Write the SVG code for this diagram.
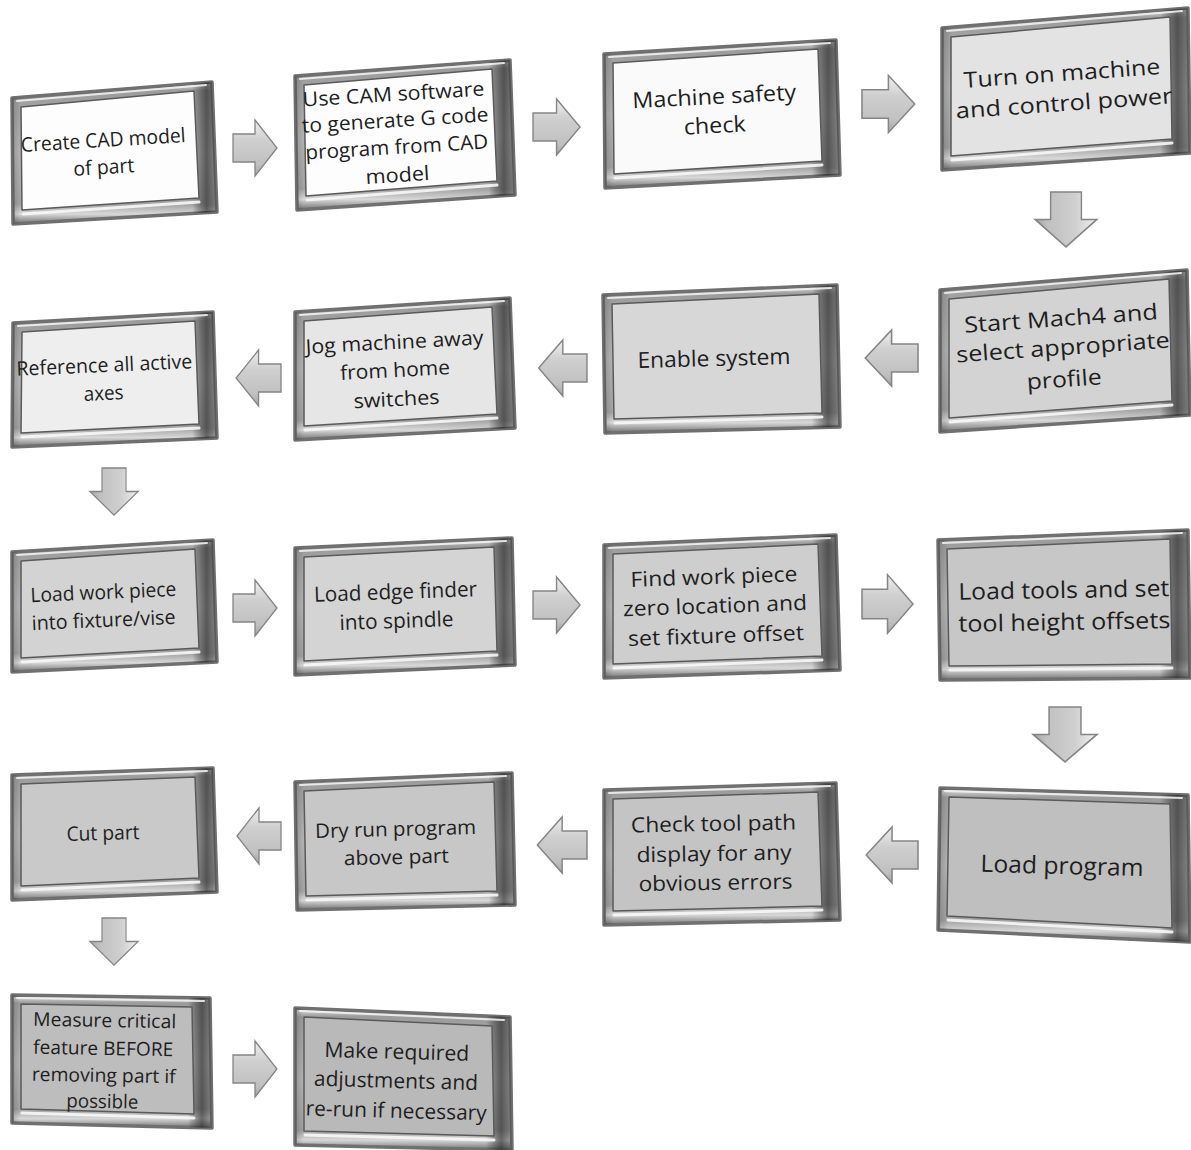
<svg xmlns="http://www.w3.org/2000/svg" width="1191" height="1150" viewBox="0 0 1191 1150">
<defs>
<linearGradient id="gFrame" x1="0" y1="0" x2="0" y2="1">
<stop offset="0" stop-color="#e4e4e4"/>
<stop offset="0.06" stop-color="#9c9c9c"/>
<stop offset="0.5" stop-color="#b4b4b4"/>
<stop offset="0.86" stop-color="#a2a2a2"/>
<stop offset="0.93" stop-color="#d8d8d8"/>
<stop offset="1" stop-color="#707070"/>
</linearGradient>
<linearGradient id="gSide" x1="0" y1="0" x2="1" y2="0">
<stop offset="0" stop-color="#000" stop-opacity="0.18"/>
<stop offset="0.04" stop-color="#000" stop-opacity="0"/>
<stop offset="0.88" stop-color="#000" stop-opacity="0"/>
<stop offset="0.95" stop-color="#1e1e1e" stop-opacity="0.6"/>
<stop offset="1" stop-color="#444" stop-opacity="0.4"/>
</linearGradient>
<linearGradient id="gArrow" x1="0" y1="0" x2="0" y2="1">
<stop offset="0" stop-color="#f0f0f0"/>
<stop offset="0.35" stop-color="#cfcfcf"/>
<stop offset="0.8" stop-color="#c0c0c0"/>
<stop offset="1" stop-color="#a4a4a4"/>
</linearGradient>
<path id="arrow" d="M0,-14 L22,-14 L22,-28 L44,0 L22,28 L22,14 L0,14 Z"/>
</defs>
<style>
.fr{fill:url(#gFrame);stroke:#707070;stroke-width:3.5;stroke-linejoin:round}
.sd{fill:url(#gSide);stroke:none}
.hl{fill:none;stroke:#f6f6f6;stroke-width:2;stroke-opacity:0.85;stroke-linecap:round}
.hb{fill:none;stroke:#f7f7f7;stroke-width:3;stroke-opacity:0.9;stroke-linecap:round}
.face{stroke:#5a5a5a;stroke-width:1.5;stroke-linejoin:round}
.t{font-family:"Open Sans","Noto Sans","DejaVu Sans",sans-serif;fill:#1e1e1e;text-anchor:middle}
.ar{fill:url(#gArrow);stroke:#858585;stroke-width:1.3;stroke-linejoin:miter;vector-effect:non-scaling-stroke}
</style>
<rect width="1191" height="1150" fill="#ffffff"/>

<g id="connectors">
<use href="#arrow" class="ar" transform="translate(233,148)"/>
<use href="#arrow" class="ar" transform="translate(533,127) scale(1.07,1)"/>
<use href="#arrow" class="ar" transform="translate(862,104) scale(1.2,1.02)"/>
<use href="#arrow" class="ar" transform="translate(1066,192) rotate(90) scale(1.25,1.1)"/>
<use href="#arrow" class="ar" transform="translate(918,358) scale(-1.2,1)"/>
<use href="#arrow" class="ar" transform="translate(587,368) scale(-1.1,1)"/>
<use href="#arrow" class="ar" transform="translate(281,378) scale(-1.02,1)"/>
<use href="#arrow" class="ar" transform="translate(114,468) rotate(90) scale(1.07,0.86)"/>
<use href="#arrow" class="ar" transform="translate(233,608)"/>
<use href="#arrow" class="ar" transform="translate(533,605) scale(1.07,1)"/>
<use href="#arrow" class="ar" transform="translate(862,604) scale(1.16,1.05)"/>
<use href="#arrow" class="ar" transform="translate(1065,707) rotate(90) scale(1.25,1.14)"/>
<use href="#arrow" class="ar" transform="translate(918,855) scale(-1.18,1)"/>
<use href="#arrow" class="ar" transform="translate(587,845) scale(-1.13,1)"/>
<use href="#arrow" class="ar" transform="translate(281,836) scale(-1,1)"/>
<use href="#arrow" class="ar" transform="translate(114,918) rotate(90) scale(1.07,0.86)"/>
<use href="#arrow" class="ar" transform="translate(233,1069)"/>
</g>

<g id="n1">
<polygon class="fr" points="12,98 212,82 217,212 13,224"/>
<polygon class="sd" points="12,98 212,82 217,212 13,224"/>
<polyline class="hl" points="17,101 206,85"/>
<polyline class="hb" points="23,214 199,202"/>
<polygon class="face" fill="#fdfdfd" points="21,107 194,91 199,198 22,210"/>
<g transform="rotate(-3.5 104 153)">
<text class="t" font-size="20" x="104" y="147" textLength="165" lengthAdjust="spacingAndGlyphs">Create CAD model</text>
<text class="t" font-size="20" x="103" y="174" textLength="61" lengthAdjust="spacingAndGlyphs">of part</text>
</g>
</g>

<g id="n2">
<polygon class="fr" points="295,76 510,60 515,195 297,210"/>
<polygon class="sd" points="295,76 510,60 515,195 297,210"/>
<polyline class="hl" points="300,79 504,63"/>
<polyline class="hb" points="307,200 497,185"/>
<polygon class="face" fill="#fdfdfd" points="304,85 492,69 497,181 306,196"/>
<g transform="rotate(-3.5 396 135)">
<text class="t" font-size="20" x="396" y="101" textLength="182" lengthAdjust="spacingAndGlyphs">Use CAM software</text>
<text class="t" font-size="20" x="396" y="127" textLength="187" lengthAdjust="spacingAndGlyphs">to generate G code</text>
<text class="t" font-size="20" x="396" y="154" textLength="183" lengthAdjust="spacingAndGlyphs">program from CAD</text>
<text class="t" font-size="20" x="395" y="182" textLength="64" lengthAdjust="spacingAndGlyphs">model</text>
</g>
</g>

<g id="n3">
<polygon class="fr" points="604,54 836,40 840,175 605,188"/>
<polygon class="sd" points="604,54 836,40 840,175 605,188"/>
<polyline class="hl" points="609,57 830,43"/>
<polyline class="hb" points="615,178 822,165"/>
<polygon class="face" fill="#fafafa" points="613,63 818,49 822,161 614,174"/>
<g transform="rotate(-3 715 112)">
<text class="t" font-size="22" x="715" y="104" textLength="164" lengthAdjust="spacingAndGlyphs">Machine safety</text>
<text class="t" font-size="22" x="714" y="133" textLength="62" lengthAdjust="spacingAndGlyphs">check</text>
</g>
</g>

<g id="n4">
<polygon class="fr" points="942,28 1188,8 1190,153 942,170"/>
<polygon class="sd" points="942,28 1188,8 1190,153 942,170"/>
<polyline class="hl" points="947,31 1182,11"/>
<polyline class="hb" points="952,160 1172,143"/>
<polygon class="face" fill="#e3e3e3" points="951,37 1170,17 1172,139 951,156"/>
<g transform="rotate(-4 1063 88)">
<text class="t" font-size="22" x="1063" y="81" textLength="197" lengthAdjust="spacingAndGlyphs">Turn on machine</text>
<text class="t" font-size="22" x="1063" y="111" textLength="217" lengthAdjust="spacingAndGlyphs">and control power</text>
</g>
</g>

<g id="n5">
<polygon class="fr" points="940,290 1187,270 1190,415 940,432"/>
<polygon class="sd" points="940,290 1187,270 1190,415 940,432"/>
<polyline class="hl" points="945,293 1181,273"/>
<polyline class="hb" points="950,422 1172,405"/>
<polygon class="face" fill="#d3d3d3" points="949,299 1169,279 1172,401 949,418"/>
<g transform="rotate(-4 1063 349)">
<text class="t" font-size="22" x="1063" y="326" textLength="194" lengthAdjust="spacingAndGlyphs">Start Mach4 and</text>
<text class="t" font-size="22" x="1063" y="355" textLength="214" lengthAdjust="spacingAndGlyphs">select appropriate</text>
<text class="t" font-size="22" x="1062" y="387" textLength="75" lengthAdjust="spacingAndGlyphs">profile</text>
</g>
</g>

<g id="n6">
<polygon class="fr" points="603,295 837,285 840,427 605,433"/>
<polygon class="sd" points="603,295 837,285 840,427 605,433"/>
<polyline class="hl" points="608,298 831,288"/>
<polyline class="hb" points="615,423 822,417"/>
<polygon class="face" fill="#d7d7d7" points="612,304 819,294 822,413 614,419"/>
<g transform="rotate(-1.5 714 360)">
<text class="t" font-size="22" x="714" y="366" textLength="153" lengthAdjust="spacingAndGlyphs">Enable system</text>
</g>
</g>

<g id="n7">
<polygon class="fr" points="295,312 510,298 515,428 295,440"/>
<polygon class="sd" points="295,312 510,298 515,428 295,440"/>
<polyline class="hl" points="300,315 504,301"/>
<polyline class="hb" points="305,430 497,418"/>
<polygon class="face" fill="#e6e6e6" points="304,321 492,307 497,414 304,426"/>
<g transform="rotate(-3 396 371)">
<text class="t" font-size="20" x="396" y="349" textLength="178" lengthAdjust="spacingAndGlyphs">Jog machine away</text>
<text class="t" font-size="20" x="395" y="377" textLength="110" lengthAdjust="spacingAndGlyphs">from home</text>
<text class="t" font-size="20" x="395" y="406" textLength="86" lengthAdjust="spacingAndGlyphs">switches</text>
</g>
</g>

<g id="n8">
<polygon class="fr" points="13,323 213,312 217,438 12,447"/>
<polygon class="sd" points="13,323 213,312 217,438 12,447"/>
<polyline class="hl" points="18,326 207,315"/>
<polyline class="hb" points="22,437 199,428"/>
<polygon class="face" fill="#eeeeee" points="22,332 195,321 199,424 21,433"/>
<g transform="rotate(-2.5 105 380)">
<text class="t" font-size="20" x="105" y="372" textLength="176" lengthAdjust="spacingAndGlyphs">Reference all active</text>
<text class="t" font-size="20" x="103" y="400" textLength="40" lengthAdjust="spacingAndGlyphs">axes</text>
</g>
</g>

<g id="n9">
<polygon class="fr" points="12,552 213,540 217,662 12,672"/>
<polygon class="sd" points="12,552 213,540 217,662 12,672"/>
<polyline class="hl" points="17,555 207,543"/>
<polyline class="hb" points="22,662 199,652"/>
<polygon class="face" fill="#d3d3d3" points="21,561 195,549 199,648 21,658"/>
<g transform="rotate(-2.5 104 606)">
<text class="t" font-size="20" x="104" y="599" textLength="146" lengthAdjust="spacingAndGlyphs">Load work piece</text>
<text class="t" font-size="20" x="103" y="627" textLength="144" lengthAdjust="spacingAndGlyphs">into fixture/vise</text>
</g>
</g>

<g id="n10">
<polygon class="fr" points="295,548 512,538 515,665 295,675"/>
<polygon class="sd" points="295,548 512,538 515,665 295,675"/>
<polyline class="hl" points="300,551 506,541"/>
<polyline class="hb" points="305,665 497,655"/>
<polygon class="face" fill="#d4d4d4" points="304,557 494,547 497,651 304,661"/>
<g transform="rotate(-2 396 606)">
<text class="t" font-size="21" x="396" y="599" textLength="163" lengthAdjust="spacingAndGlyphs">Load edge finder</text>
<text class="t" font-size="21" x="396" y="628" textLength="114" lengthAdjust="spacingAndGlyphs">into spindle</text>
</g>
</g>

<g id="n11">
<polygon class="fr" points="604,545 836,535 840,670 604,678"/>
<polygon class="sd" points="604,545 836,535 840,670 604,678"/>
<polyline class="hl" points="609,548 830,538"/>
<polyline class="hb" points="614,668 822,660"/>
<polygon class="face" fill="#cecece" points="613,554 818,544 822,656 613,664"/>
<g transform="rotate(-2 715 606)">
<text class="t" font-size="21" x="715" y="584" textLength="167" lengthAdjust="spacingAndGlyphs">Find work piece</text>
<text class="t" font-size="21" x="715" y="613" textLength="184" lengthAdjust="spacingAndGlyphs">zero location and</text>
<text class="t" font-size="21" x="715" y="643" textLength="176" lengthAdjust="spacingAndGlyphs">set fixture offset</text>
</g>
</g>

<g id="n12">
<polygon class="fr" points="938,540 1188,530 1190,678 940,680"/>
<polygon class="sd" points="938,540 1188,530 1190,678 940,680"/>
<polyline class="hl" points="943,543 1182,533"/>
<polyline class="hb" points="950,670 1172,668"/>
<polygon class="face" fill="#c7c7c7" points="947,549 1170,539 1172,664 949,666"/>
<g transform="rotate(-1 1064 606)">
<text class="t" font-size="23" x="1064" y="598" textLength="211" lengthAdjust="spacingAndGlyphs">Load tools and set</text>
<text class="t" font-size="23" x="1064" y="630" textLength="212" lengthAdjust="spacingAndGlyphs">tool height offsets</text>
</g>
</g>

<g id="n13">
<polygon class="fr" points="12,775 213,768 217,892 12,900"/>
<polygon class="sd" points="12,775 213,768 217,892 12,900"/>
<polyline class="hl" points="17,778 207,771"/>
<polyline class="hb" points="22,890 199,882"/>
<polygon class="face" fill="#c9c9c9" points="21,784 195,777 199,878 21,886"/>
<g transform="rotate(-1.5 103 833)">
<text class="t" font-size="20" x="103" y="840" textLength="73" lengthAdjust="spacingAndGlyphs">Cut part</text>
</g>
</g>

<g id="n14">
<polygon class="fr" points="295,782 512,773 515,905 297,910"/>
<polygon class="sd" points="295,782 512,773 515,905 297,910"/>
<polyline class="hl" points="300,785 506,776"/>
<polyline class="hb" points="307,900 497,895"/>
<polygon class="face" fill="#c7c7c7" points="304,791 494,782 497,891 306,896"/>
<g transform="rotate(-1.5 396 843)">
<text class="t" font-size="20" x="396" y="836" textLength="161" lengthAdjust="spacingAndGlyphs">Dry run program</text>
<text class="t" font-size="20" x="396" y="864" textLength="105" lengthAdjust="spacingAndGlyphs">above part</text>
</g>
</g>

<g id="n15">
<polygon class="fr" points="604,790 836,783 840,920 604,925"/>
<polygon class="sd" points="604,790 836,783 840,920 604,925"/>
<polyline class="hl" points="609,793 830,786"/>
<polyline class="hb" points="614,915 822,910"/>
<polygon class="face" fill="#c4c4c4" points="613,799 818,792 822,906 613,911"/>
<g transform="rotate(-1 714 854)">
<text class="t" font-size="21" x="714" y="831" textLength="165" lengthAdjust="spacingAndGlyphs">Check tool path</text>
<text class="t" font-size="21" x="714" y="861" textLength="155" lengthAdjust="spacingAndGlyphs">display for any</text>
<text class="t" font-size="21" x="715" y="890" textLength="154" lengthAdjust="spacingAndGlyphs">obvious errors</text>
</g>
</g>

<g id="n16">
<polygon class="fr" points="940,788 1188,795 1190,942 938,930"/>
<polygon class="sd" points="940,788 1188,795 1190,942 938,930"/>
<polyline class="hl" points="945,791 1182,798"/>
<polyline class="hb" points="948,920 1172,932"/>
<polygon class="face" fill="#bfbfbf" points="949,797 1170,804 1172,928 947,916"/>
<g transform="rotate(1.5 1062 866)">
<text class="t" font-size="24" x="1062" y="874" textLength="163" lengthAdjust="spacingAndGlyphs">Load program</text>
</g>
</g>

<g id="n17">
<polygon class="fr" points="12,995 210,998 212,1128 12,1123"/>
<polygon class="sd" points="12,995 210,998 212,1128 12,1123"/>
<polyline class="hl" points="17,998 204,1001"/>
<polyline class="hb" points="22,1113 194,1118"/>
<polygon class="face" fill="#bdbdbd" points="21,1004 192,1007 194,1114 21,1109"/>
<g transform="rotate(1 104 1061)">
<text class="t" font-size="19" x="104" y="1027" textLength="143" lengthAdjust="spacingAndGlyphs">Measure critical</text>
<text class="t" font-size="19" x="103" y="1055" textLength="140" lengthAdjust="spacingAndGlyphs">feature BEFORE</text>
<text class="t" font-size="19" x="104" y="1082" textLength="144" lengthAdjust="spacingAndGlyphs">removing part if</text>
<text class="t" font-size="19" x="103" y="1108" textLength="72" lengthAdjust="spacingAndGlyphs">possible</text>
</g>
</g>

<g id="n18">
<polygon class="fr" points="295,1008 510,1017 512,1150 295,1145"/>
<polygon class="sd" points="295,1008 510,1017 512,1150 295,1145"/>
<polyline class="hl" points="300,1011 504,1020"/>
<polyline class="hb" points="305,1135 494,1140"/>
<polygon class="face" fill="#b9b9b9" points="304,1017 492,1026 494,1136 304,1131"/>
<g transform="rotate(1.5 398 1082)">
<text class="t" font-size="21" x="396" y="1059" textLength="145" lengthAdjust="spacingAndGlyphs">Make required</text>
<text class="t" font-size="21" x="396" y="1088" textLength="164" lengthAdjust="spacingAndGlyphs">adjustments and</text>
<text class="t" font-size="21" x="397" y="1118" textLength="181" lengthAdjust="spacingAndGlyphs">re-run if necessary</text>
</g>
</g>
</svg>
